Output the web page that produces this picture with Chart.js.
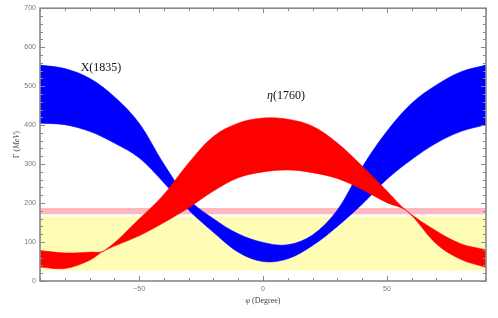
<!DOCTYPE html>
<html>
<head>
<meta charset="utf-8">
<script src="https://cdn.jsdelivr.net/npm/chart.js@4/dist/chart.umd.min.js"></script>
<style>
html,body{margin:0;padding:0;background:#fff;}
canvas{display:block;}
</style>
</head>
<body>
<canvas id="c" width="498" height="318"></canvas>
<script>
// ---- data ----
const bluePhi   = [-90,-80,-70,-60,-50,-40,-30,-20,-10,0,10,20,30,40,50,60,70,80,90];
const blueUpper = [554,545,520,473,405,300,210,160,121,99,93,118,182,292,384,456,503,537,554];
const blueLower = [405,401,384,354,316,252,182,125,74,50,57,91,140,197,261,312,354,384,401];
const redPhi    = [-90,-80,-70,-64,-50,-40,-30,-20,-10,0,10,20,30,40,50,58,70,80,90];
const redUpper  = [78,72,74,78,159,222,303,371,405,418,415,397,354,295,231,180,128,95,80];
const redLower  = [36,32,53,78,116,150,188,231,265,280,285,278,263,235,201,180,95,55,35];
const pinkBand   = [171,187];
const yellowBand = [27,165];
const xRange = [-90,90];
const yRange = [0,700];
const xTickLabels = [-50,0,50];
const yTickLabels = [0,100,200,300,400,500,600,700];
const seriesNames = ['X(1835)','η(1760)'];

function pts(xs, ys){ return xs.map((p,i)=>({x:p,y:ys[i]})); }
function flat(v){ return xRange.map(p=>({x:p,y:v})); }

const BLUE='#0000ff', RED='#ff0000', PINK='#ffb8bf', YELLOW='#fffcb6';

const line = (data, color, fill) => ({
  data, borderColor: color, backgroundColor: color, borderWidth: 0.6,
  pointRadius: 0, fill: fill, tension: 0.35
});

// dataset 0 is drawn last (on top)
const datasets = [
  line(pts(redPhi, redLower), RED, false),
  line(pts(redPhi, redUpper), RED, 0),
  line(pts(bluePhi, blueLower), BLUE, false),
  line(pts(bluePhi, blueUpper), BLUE, 2),
  {data: flat(pinkBand[0]), borderWidth:0, pointRadius:0, fill:false, backgroundColor:PINK},
  {data: flat(pinkBand[1]), borderWidth:0, pointRadius:0, fill:4, backgroundColor:PINK},
  {data: flat(yellowBand[0]), borderWidth:0, pointRadius:0, fill:false, backgroundColor:YELLOW},
  {data: flat(yellowBand[1]), borderWidth:0, pointRadius:0, fill:6, backgroundColor:YELLOW}
];

const frame = {
  id:'frame',
  afterDatasetsDraw(chart){
    const {ctx, chartArea:a, scales:{x,y}} = chart;
    ctx.save();
    ctx.strokeStyle='#888'; ctx.lineWidth=1;
    ctx.beginPath();
    x.ticks.forEach(t=>{
      const px = Math.round(x.getPixelForValue(t.value))+0.5;
      const L = xTickLabels.includes(t.value) ? 5 : 3;
      ctx.moveTo(px,a.bottom); ctx.lineTo(px,a.bottom-L);
      ctx.moveTo(px,a.top); ctx.lineTo(px,a.top+L);
    });
    y.ticks.forEach(t=>{
      const py = Math.round(y.getPixelForValue(t.value))+0.5;
      const L = yTickLabels.includes(t.value) ? 5 : 3;
      ctx.moveTo(a.left,py); ctx.lineTo(a.left+L,py);
      ctx.moveTo(a.right,py); ctx.lineTo(a.right-L,py);
    });
    ctx.stroke();
    ctx.lineWidth=1.6;
    ctx.strokeRect(a.left,a.top,a.right-a.left,a.bottom-a.top);

    // series labels
    ctx.fillStyle='#111';
    ctx.textBaseline='alphabetic'; ctx.textAlign='left';
    ctx.font='12px "Liberation Serif"';
    ctx.fillText(seriesNames[0], x.getPixelForValue(-73.6), y.getPixelForValue(540));
    let ex = x.getPixelForValue(1.6), ey = y.getPixelForValue(466);
    ctx.font='italic 12px "Liberation Serif"';
    ctx.fillText('η', ex, ey);
    const w = ctx.measureText('η').width;
    ctx.font='12px "Liberation Serif"';
    ctx.fillText(seriesNames[1].slice(1), ex+w, ey);

    // axis titles
    ctx.fillStyle='#444';
    const parts = (arr, cx, cy) => {
      let tot=0;
      arr.forEach(p=>{ctx.font=p[1]; tot+=ctx.measureText(p[0]).width;});
      let sx = cx - tot/2;
      arr.forEach(p=>{ctx.font=p[1]; ctx.fillText(p[0], sx, cy); sx+=ctx.measureText(p[0]).width;});
    };
    ctx.textBaseline='middle';
    parts([['φ','italic 8px "Liberation Serif"'],[' (Degree)','8px "Liberation Serif"']], (a.left+a.right)/2, 301);
    ctx.save();
    ctx.translate(17,(a.top+a.bottom)/2);
    ctx.rotate(-Math.PI/2);
    parts([['Γ (','8px "Liberation Serif"'],['MeV','italic 8px "Liberation Serif"'],[')','8px "Liberation Serif"']], 0, 0);
    ctx.restore();
    ctx.restore();
  }
};

new Chart(document.getElementById('c'), {
  type:'line',
  data:{datasets},
  plugins:[frame],
  options:{
    responsive:false, animation:false, devicePixelRatio:1,
    layout:{padding:{top:6,right:12,left:0,bottom:0}},
    plugins:{legend:{display:false}, tooltip:{enabled:false}},
    scales:{
      x:{type:'linear', min:xRange[0], max:xRange[1],
        grid:{display:false, drawTicks:false}, border:{display:false},
        ticks:{stepSize:10, autoSkip:false, maxRotation:0, padding:4, color:'#777',
          font:{family:'"Liberation Sans"', size:7},
          callback:v=> xTickLabels.includes(v) ? (v<0?'−'+Math.abs(v):String(v)) : ''},
        afterFit(s){ s.height=37; }
      },
      y:{type:'linear', min:yRange[0], max:yRange[1],
        grid:{display:false, drawTicks:false}, border:{display:false},
        ticks:{stepSize:20, autoSkip:false, padding:4, color:'#777',
          font:{family:'"Liberation Sans"', size:7},
          callback:v=> yTickLabels.includes(v) ? String(v) : ''},
        afterFit(s){ s.width=40; }
      }
    }
  }
});
</script>
</body>
</html>
